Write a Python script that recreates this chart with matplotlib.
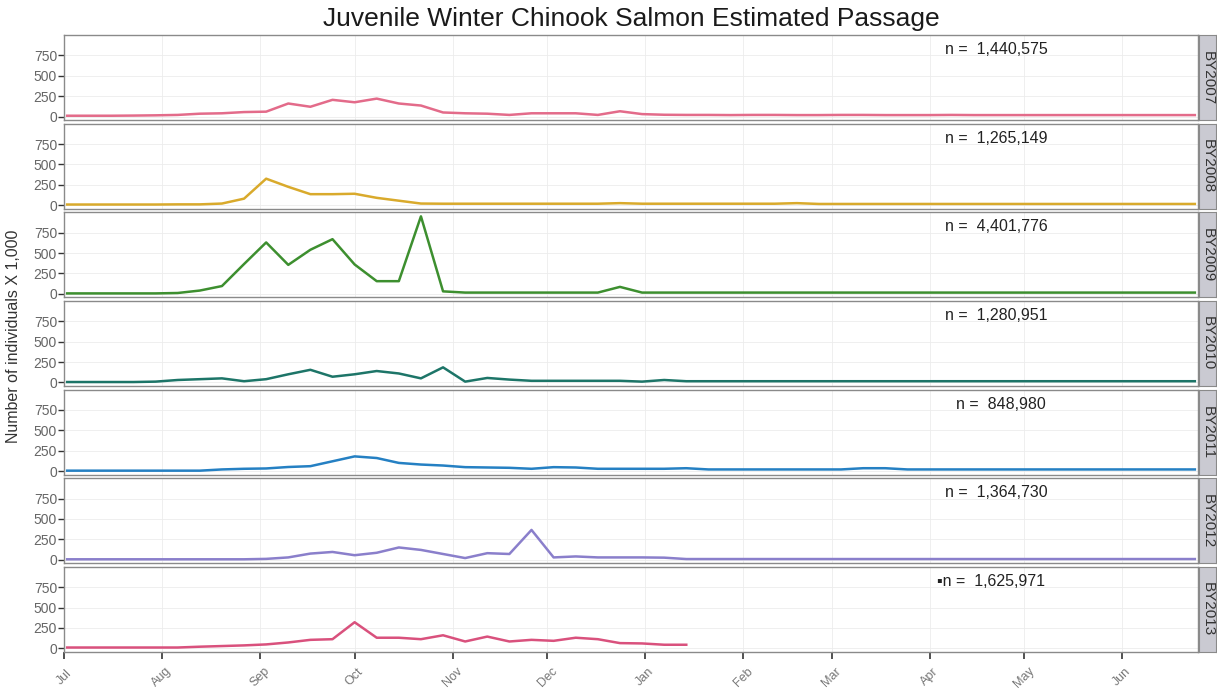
import numpy as np
import matplotlib
matplotlib.use("Agg")
import matplotlib.pyplot as plt

plt.rcParams['font.family'] = ['Liberation Sans', 'DejaVu Sans']

# ---------------- data (thousands of fish, weekly estimates) ----------------
month_labels = ["Jul", "Aug", "Sep", "Oct", "Nov", "Dec", "Jan", "Feb", "Mar", "Apr", "May", "Jun"]
month_start_day = [0, 31, 62, 92, 123, 153, 184, 215, 243, 274, 304, 335]
y_ticks = [0, 250, 500, 750]

brood_years = ["BY2007", "BY2008", "BY2009", "BY2010", "BY2011", "BY2012", "BY2013"]
totals = ["1,440,575", "1,265,149", "4,401,776", "1,280,951", "848,980", "1,364,730", "1,625,971"]

by2007 = [10, 10, 10, 12, 15, 20, 35, 40, 55, 60, 160, 120, 205, 175, 220, 160, 135, 50,
          40, 35, 20, 40, 40, 40, 20, 65, 30,
          22, 20, 20, 18, 20, 20, 18, 18, 20, 20, 18, 18, 18, 20, 18, 18, 18, 18, 18, 18,
          18, 18, 18, 18, 18]
by2008 = [8, 8, 8, 8, 8, 10, 10, 20, 80, 325, 225, 135, 135, 140, 90, 55, 20,
          18, 18, 18, 18, 18, 18, 18, 18, 25, 18, 18, 18, 18, 18, 18, 18, 25,
          15, 15, 15, 15, 15, 15, 15, 15, 15, 15, 15, 15, 15, 15, 15, 15, 15, 15]
by2009 = [5, 5, 5, 5, 5, 10, 40, 95, 365, 630, 355, 540, 670, 360, 155, 155, 950, 30,
          15, 15, 15, 15, 15, 15, 15, 85,
          15, 15, 15, 15, 15, 15, 15, 15, 15, 15, 15, 15, 15, 15, 15, 15, 15, 15, 15, 15,
          15, 15, 15, 15, 15, 15]
by2010 = [5, 5, 5, 5, 10, 30, 40, 50, 15, 40, 100, 155, 70, 100, 140, 110, 50, 185, 10,
          55, 35, 20, 20, 20, 20, 20, 10, 30,
          15, 15, 15, 15, 15, 15, 15, 15, 15, 15, 15, 15, 15, 15, 15, 15, 15, 15, 15, 15,
          15, 15, 15, 15]
by2011 = [5, 5, 5, 5, 5, 5, 5, 20, 28, 32, 50, 60, 120, 180, 160, 100, 80, 68, 48, 44,
          40, 28, 48, 44, 28, 28, 28, 28, 35, 20, 20, 20, 20, 20, 20, 20, 35, 35,
          20, 20, 20, 20, 20, 20, 20, 20, 20, 20, 20, 20, 20, 20]
by2012 = [5, 5, 5, 5, 5, 5, 5, 5, 5, 10, 28, 75, 95, 55, 85, 150, 120, 70, 20, 80, 70,
          365, 28, 40, 28, 28, 28, 25,
          8, 8, 8, 8, 8, 8, 8, 8, 8, 8, 8, 8, 8, 8, 8, 8, 8, 8, 8, 8, 8, 8, 8, 8]
by2013 = [10, 10, 10, 10, 10, 10, 20, 28, 36, 48, 72, 104, 112, 320, 130, 130, 112, 160,
          84, 144, 84, 104, 92, 130, 112, 64, 60, 44, 44]

series = [by2007, by2008, by2009, by2010, by2011, by2012, by2013]
colors = ["#e36b8a", "#d9aa2c", "#3d8f2f", "#1d7568", "#2580c3", "#8a7fcb", "#d9517d"]

# ---------------- figure ----------------
W, H = 1217, 692
fig = plt.figure(figsize=(W / 100, H / 100), dpi=100)
left, right = 64 / W, 1198 / W
top, bottom = 1 - 35 / H, 1 - 652 / H
gs = fig.add_gridspec(7, 1, left=left, right=right, top=top, bottom=bottom, hspace=0.04)

strip_w = 17 / W
for i, (vals, col, by, tot) in enumerate(zip(series, colors, brood_years, totals)):
    ax = fig.add_subplot(gs[i, 0])
    x = np.arange(len(vals)) * 7 + 1   # weekly sampling positions (day of brood year)
    ax.plot(x, vals, color=col, lw=1.8, solid_joinstyle='round')
    ax.set_xlim(0, 359)
    ax.set_ylim(-45, 1000)
    ax.set_yticks(y_ticks)
    ax.set_yticklabels([str(t) for t in y_ticks], color="#666666", fontsize=10)
    ax.set_xticks(month_start_day)
    ax.grid(True, color="#ececec", lw=0.6)
    ax.set_axisbelow(True)
    for sp in ax.spines.values():
        sp.set_color("#8a8a8a")
        sp.set_linewidth(1.0)
    ax.tick_params(axis='y', length=4, width=1, color="#333333", pad=1)
    if i < 6:
        ax.tick_params(axis='x', length=0, labelbottom=False)
    else:
        ax.tick_params(axis='x', length=5, width=1.2, color="#333333", pad=13)
        ax.set_xticklabels(month_labels, rotation=45, ha='center', va='center',
                           rotation_mode='anchor', color="#777777", fontsize=9)
    label = ("\u25aa" if i == 6 else "") + "n =  " + tot
    xpos = 0.787 if tot == "848,980" else 0.777
    ax.text(xpos - (0.007 if i == 6 else 0), 0.83, label, transform=ax.transAxes,
            fontsize=11.5, color="#222222", va='center', ha='left')
    # facet strip
    pos = ax.get_position()
    sax = fig.add_axes([pos.x1 + 1 / W, pos.y0, strip_w, pos.height])
    sax.set_facecolor("#cacad2")
    sax.set_xticks([])
    sax.set_yticks([])
    for sp in sax.spines.values():
        sp.set_color("#8a8a8a")
        sp.set_linewidth(0.8)
    sax.text(0.5, 0.5, by, rotation=270, ha='center', va='center', fontsize=11,
             color="#333333", transform=sax.transAxes)

fig.text((left + right) / 2, 1 - 19 / H, "Juvenile Winter Chinook Salmon Estimated Passage",
         ha='center', va='center', fontsize=19, color="#1a1a1a")
fig.text(14 / W, (top + bottom) / 2 + 0.01, "Number of individuals X 1,000", rotation=90,
         ha='center', va='center', fontsize=11.5, color="#333333")

fig.savefig("out.png", dpi=100)
